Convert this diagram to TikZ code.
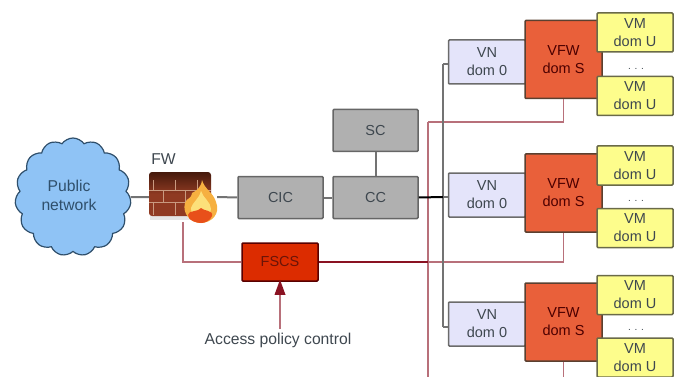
\documentclass[tikz,border=0pt]{standalone}
\usepackage{fontspec}
\setmainfont{Liberation Sans}
\usetikzlibrary{shapes.symbols,arrows.meta}
\definecolor{cloudfill}{HTML}{8FC3F5}
\definecolor{cloudline}{HTML}{2F4F6B}
\definecolor{txtgray}{HTML}{3E474F}
\definecolor{linkred}{HTML}{B8707A}
\definecolor{darkred}{HTML}{8A1222}
\definecolor{vfwfill}{HTML}{E9603A}
\definecolor{vfwline}{HTML}{5A4030}
\definecolor{vnfill}{HTML}{E4E4FA}
\definecolor{vmfill}{HTML}{FDFD8C}
\definecolor{vmline}{HTML}{6A6A48}
\definecolor{fscsfill}{HTML}{DC2C00}
\definecolor{fscstext}{HTML}{6A1408}
\definecolor{brick}{HTML}{8F3A22}
\definecolor{brickdark}{HTML}{45190C}
\definecolor{mortar}{HTML}{C99A80}
\definecolor{flameout}{HTML}{F6B040}
\definecolor{flamein}{HTML}{FCE07A}
\definecolor{flamelow}{HTML}{E8501A}
\begin{document}
\begin{tikzpicture}[x=1pt,y=-1pt,
  every node/.style={font=\fontsize{14.5}{18}\selectfont, text=txtgray, align=center},
  bigtxt/.style={font=\fontsize{15.7}{19}\selectfont},
  box/.style={draw=black!60, line width=1.5pt, rounded corners=1pt, fill=black!31, inner sep=0pt},
  ctrl/.style={box, minimum width=85pt, minimum height=42pt},
  vn/.style={box, fill=vnfill, draw=black!58, minimum width=77pt, minimum height=44pt},
  vfw/.style={box, fill=vfwfill, draw=vfwline, minimum width=77pt, minimum height=78pt, text=red!30!black},
  vm/.style={box, fill=vmfill, draw=vmline, minimum width=76pt, minimum height=39pt},
  dots/.style={font=\fontsize{10}{12}\selectfont},
  gline/.style={line width=2pt, draw=black!55},
  rline/.style={line width=1.7pt, draw=linkred}
]
  \useasboundingbox (0,0) rectangle (680,377);
  \coordinate (low) at (428,377);
  \coordinate (upp) at (428,122);
  \coordinate (jred) at (428,262);
  \coordinate (jgray) at (443,197);
  \coordinate (gtop) at (443,64);
  \coordinate (gbot) at (443,327);

  \node[draw=cloudline, line width=1.2pt, fill=cloudfill, shape=cloud, cloud puffs=15, cloud puff arc=110, aspect=1, inner sep=0pt, minimum width=116pt, minimum height=118pt] (net) at (73,197) {};
  \node[bigtxt, text=cloudline] (netlab) at (69,195) {Public\\network};
  \node[minimum width=68pt, minimum height=50pt, inner sep=0pt] (fw) at (183,197) {};
  \node[bigtxt] (fwlab) at (163.5,159) {FW};

  % firewall
  \fill[black!20, opacity=.5] (150,214) rectangle (210,220);
  \shade[top color=brickdark, bottom color=brick, middle color=brick, rounded corners=3pt] (149,172) rectangle (211,216);
  \draw[mortar, line width=.7pt] (149,190) -- (211,190) (149,202) -- (211,202)
    (153,180) -- (153,190) (175,180) -- (175,190) (197,180) -- (197,190)
    (163,190) -- (163,202) (185,190) -- (185,202)
    (153,202) -- (153,215) (175,202) -- (175,215);
  \fill[flameout] (202,180) .. controls (205,190) and (213,192) .. (216,202) .. controls (221,214) and (211,223) .. (201,223) .. controls (191,223) and (182,214) .. (185,203) .. controls (187,197) and (191,200) .. (192,193) .. controls (196,191) and (201,188) .. (202,180);
  \fill[flamein] (201,191) .. controls (203,198) and (211,202) .. (211,209) .. controls (211,215) and (206,218) .. (201,218) .. controls (196,218) and (190,214) .. (191,208) .. controls (192,203) and (199,199) .. (201,191);
  \fill[flamelow] (201,208) .. controls (203,211) and (214,210) .. (212,216) .. controls (210,221) and (205,223) .. (201,223) .. controls (197,223) and (188,221) .. (188,215) .. controls (188,210) and (199,212) .. (201,208);

  \node[ctrl] (cic) at (280.5,197.5) {CIC};
  \node[ctrl] (cc) at (375.5,197.5) {CC};
  \node[ctrl] (sc) at (375.5,130.5) {SC};
  \node[box, fill=fscsfill, draw=red!35!black, minimum width=76pt, minimum height=38pt, text=fscstext] (fscs) at (280,262) {FSCS};
  \node[bigtxt] (policy) at (278,340) {Access policy control};

  \node[vn] (vna) at (487,62) {VN\\dom 0};
  \node[vn] (vnb) at (487,195) {VN\\dom 0};
  \node[vn] (vnc) at (487,324) {VN\\dom 0};
  \node[vfw] (vfwa) at (563.5,59.5) {VFW\\dom S};
  \node[vfw] (vfwb) at (563.5,193) {VFW\\dom S};
  \node[vfw] (vfwc) at (563.5,322) {VFW\\dom S};
  \node[vm] (vmaa) at (635,32.5) {VM\\dom U};
  \node[vm] (vmab) at (635,96) {VM\\dom U};
  \node[vm] (vmba) at (635,165.5) {VM\\dom U};
  \node[vm] (vmbb) at (635,228) {VM\\dom U};
  \node[vm] (vmca) at (635,295) {VM\\dom U};
  \node[vm] (vmcb) at (635,357.5) {VM\\dom U};
  \node[dots] (dota) at (636,68.5) {. . .};
  \node[dots] (dotb) at (636,201) {. . .};
  \node[dots] (dotc) at (636,330) {. . .};

  % links
  \draw[rline] (fscs.west) -| (fw.south);
  \draw[rline] (jred) -| (vfwb.south);
  \draw[rline] (upp) -| (vfwa.south);
  \draw[rline] (low) -- (upp);
  \draw[rline] (vfwc.south) -- (vfwc.south |- low);
  \draw[line width=1.7pt, draw=darkred] (fscs.east) -- (jred);
  \draw[gline] (net.east) -- (fw.west);
  \draw[gline] (fw.east) -- (cic.west);
  \draw[gline] (cic.east) -- (cc.west);
  \draw[gline] (sc.south) -- (cc.north);
  \draw[gline] (gtop) -- (gbot);
  \draw[gline] (gtop) -- (gtop -| vna.west);
  \draw[gline] (jgray) -- (jgray -| vnb.west);
  \draw[gline] (gbot) -- (gbot -| vnc.west);
  \draw[line width=2pt, draw=black] (cc.east) -- (jgray);
  \draw[rline] (fscs.south |- policy.north) -- (fscs.south);
  \fill[darkred] ([yshift=2pt]fscs.south) -- ++(-5.5,15) -- ++(11,0) -- cycle;
\end{tikzpicture}
\end{document}
